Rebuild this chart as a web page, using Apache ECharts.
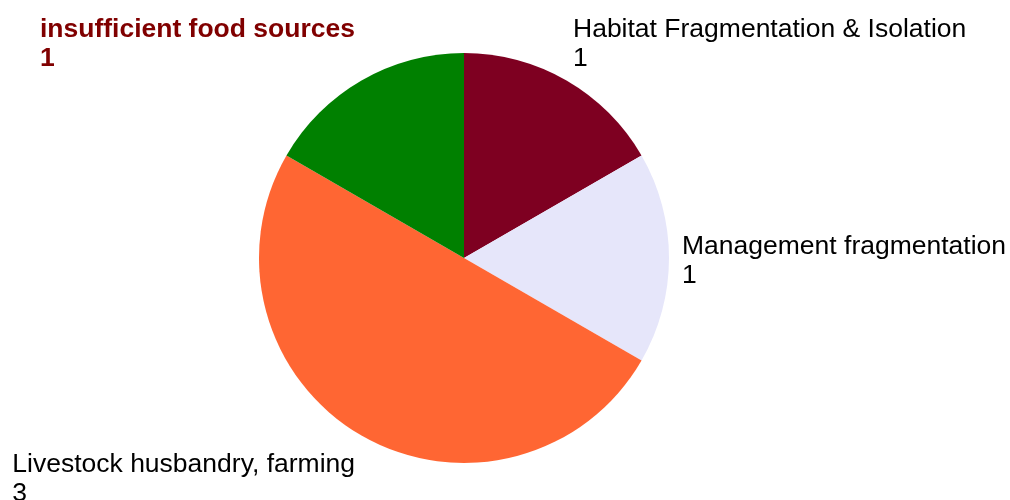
<!DOCTYPE html>
<html>
<head>
<meta charset="utf-8">
<script src="https://cdn.jsdelivr.net/npm/echarts@6/dist/echarts.min.js"></script>
<style>
  html, body { margin: 0; padding: 0; background: #fff; }
  #chartPie { width: 1010px; height: 500px; }
</style>
</head>
<body>
<div id="chartPie"></div>
<script>
  var categories = ['Habitat Fragmentation & Isolation', 'Management fragmentation', 'Livestock husbandry, farming', 'insufficient food sources'];
  var values = [1, 1, 3, 1];
  var colors = ['#7e0021', '#e6e6fa', '#ff6633', '#008000'];

  var cx = 464, cy = 258, radius = 205, labelGap = 13;
  var total = values.reduce(function (a, b) { return a + b; }, 0);

  var chartPie = echarts.init(document.getElementById('chartPie'));

  var pieData = [];
  for (var i = 0; i < categories.length; i++) {
    var item = { name: categories[i], value: values[i], itemStyle: { color: colors[i] } };
    if (i === 3) {
      item.label = { color: '#800000', fontWeight: 'bold' };
    }
    pieData.push(item);
  }

  chartPie.setOption({
    animation: false,
    series: [
      {
        type: 'pie',
        center: [cx, cy],
        radius: radius,
        startAngle: 90,
        clockwise: true,
        data: pieData,
        label: {
          show: true,
          position: 'outside',
          formatter: '{b}\n{c}',
          fontFamily: 'Liberation Sans',
          fontSize: 26.5,
          lineHeight: 29,
          color: '#000',
          align: 'left',
          overflow: 'none'
        },
        labelLine: { show: false },
        emphasis: { disabled: true },
        labelLayout: function (params) {
          // put the label just outside the mid angle of its slice
          var before = 0;
          for (var k = 0; k < params.dataIndex; k++) before += values[k];
          var mid = (before + values[params.dataIndex] / 2) / total * Math.PI * 2;
          var sx = Math.sin(mid), cyv = Math.cos(mid);
          var x = cx + (radius + labelGap) * sx;
          var y = cy - (radius + labelGap) * cyv + 3.5;
          if (sx < 0) x -= params.labelRect.width;
          var vAlign = cyv > 0.5 ? 'bottom' : (cyv < -0.5 ? 'top' : 'middle');
          return { x: x, y: y, align: 'left', verticalAlign: vAlign };
        }
      }
    ]
  });
</script>
</body>
</html>
